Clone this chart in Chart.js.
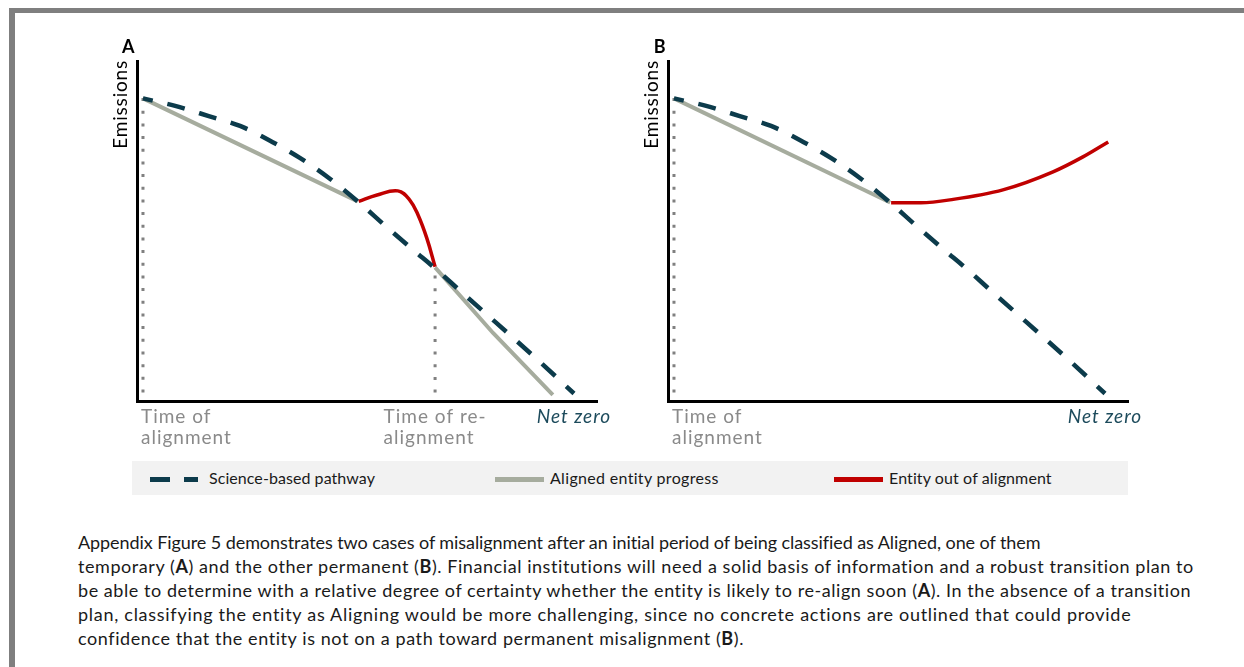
<!DOCTYPE html>
<html>
<head>
<meta charset="utf-8">
<script src="https://cdn.jsdelivr.net/npm/chart.js@4.4.1/dist/chart.umd.min.js"></script>
<style>
  html, body { margin: 0; padding: 0; background: #fff; }
  body { width: 1244px; height: 667px; position: relative; overflow: hidden; font-family: Lato, "Open Sans", sans-serif; }
  #frame { position: absolute; left: 9px; top: 8px; width: 1400px; height: 800px; border-left: 6px solid #7f7f7f; border-top: 5px solid #7f7f7f; box-sizing: border-box; }
  canvas { position: absolute; }
  #chartA { left: 100px; top: 30px; }
  #chartB { left: 631px; top: 30px; }
  #legend { position: absolute; left: 132px; top: 461px; width: 996px; height: 34px; background: #f2f2f2; }
  .sw { position: absolute; height: 5px; top: 15.5px; }
  .lt { position: absolute; top: 7px; font-size: 16px; line-height: 19px; color: #1a1a1a; white-space: nowrap; }
  #para { position: absolute; left: 78px; top: 530px; font-size: 18px; line-height: 24px; color: #1a1a1a; white-space: nowrap; }
  #para span { display: block; width: max-content; }
</style>
</head>
<body>
<div id="frame"></div>
<canvas id="chartA" width="530" height="430"></canvas>
<canvas id="chartB" width="530" height="430"></canvas>
<div id="legend"></div>
<div id="para">
<span data-w="962">Appendix Figure 5 demonstrates two cases of misalignment after an initial period of being classified as Aligned, one of them</span>
<span data-w="1117">temporary (<b>A</b>) and the other permanent (<b>B</b>). Financial institutions will need a solid basis of information and a robust transition plan to</span>
<span data-w="1114">be able to determine with a relative degree of certainty whether the entity is likely to re-align soon (<b>A</b>). In the absence of a transition</span>
<span data-w="1054">plan, classifying the entity as Aligning would be more challenging, since no concrete actions are outlined that could provide</span>
<span data-w="666">confidence that the entity is not on a path toward permanent misalignment (<b>B</b>).</span>
</div>
<script>
// Time runs 0..100 from the alignment date towards net zero; emissions 0..100.
const seriesNames = ['Science-based pathway', 'Aligned entity progress', 'Entity out of alignment'];

// Science-based pathway (same in both panels)
const pathwayX = [1.3, 8.3, 15.6, 22.4, 29.4, 35.4, 42, 48, 54, 60, 65, 70, 76, 82, 88, 95];
const pathwayY = [89, 86.8, 83.8, 80.9, 76.2, 71.5, 65.3, 58.7, 51.5, 44.5, 38.8, 32.7, 25.5, 18.3, 11, 2.2];

// Panel A: temporary misalignment, then re-alignment
const alignedAX = [1.3, 48, null, 64.8, 77.4, 90.4];
const alignedAY = [89, 58.7, null, 39.3, 20, 1.8];
const outAX = [48.2, 52.2, 56.7, 59.3, 61.1, 63, 64.8];
const outAY = [58.7, 60.6, 61.8, 59.1, 54.7, 47.9, 39.5];

// Panel B: permanent misalignment
const alignedBX = [1.3, 48.3];
const alignedBY = [89, 58.4];
const outBX = [48.5, 55, 62, 72.8, 83.7, 90.2, 95.7];
const outBY = [58.3, 58.3, 59.3, 62.1, 67.4, 71.8, 76.2];

// Vertical guides at the alignment / re-alignment dates
const timeAlign = 1.3, timeRealign = 64.8, netZero = 95;
const guideTop = 89.1, guideBottom = 2.3, realignGuideTop = 36.9;

// Axis notes
const notesA = [
  { at: timeAlign, lines: ['Time of', 'alignment'], place: 'left' },
  { at: timeRealign, lines: ['Time of re-', 'alignment'], place: 'block' },
  { at: netZero, lines: ['Net zero'], place: 'center', italic: true }
];
const notesB = [
  { at: timeAlign, lines: ['Time of', 'alignment'], place: 'left' },
  { at: netZero, lines: ['Net zero'], place: 'center', italic: true }
];

const TEAL = '#0c3b4b', GREY_LINE = '#a6ac9e', RED = '#c00000', DOT = '#808080';

function pts(xs, ys) {
  return xs.map((x, i) => ({ x: x, y: ys[i] }));
}
function ptsGap(xs, ys) {
  return xs.map((x, i) => x === null ? { x: xs[i - 1], y: null } : { x: x, y: ys[i] });
}

const panelText = {
  id: 'panelText',
  afterDraw(chart, args, opts) {
    const { ctx, chartArea } = chart;
    const xs = chart.scales.x;
    ctx.save();
    // panel letter
    ctx.fillStyle = '#000';
    ctx.font = 'bold 18px Lato, "Open Sans", sans-serif';
    ctx.textAlign = 'right';
    ctx.textBaseline = 'alphabetic';
    ctx.fillText(opts.letter, chartArea.left - 2.5, chartArea.top - 8);
    // y axis title
    ctx.save();
    ctx.translate(chartArea.left - 10, chartArea.top - 1);
    ctx.rotate(-Math.PI / 2);
    ctx.textAlign = 'right';
    ctx.font = '19px Lato, "Open Sans", sans-serif';
    ctx.letterSpacing = '0.8px';
    ctx.fillText('Emissions', 0, 0);
    ctx.restore();
    // notes under the time axis
    ctx.letterSpacing = '1px';
    opts.notes.forEach(n => {
      const px = xs.getPixelForValue(n.at);
      ctx.font = (n.italic ? 'italic ' : '') + '19px Lato, "Open Sans", sans-serif';
      ctx.fillStyle = n.italic ? '#1d4b5c' : '#8a8a8a';
      let startX = px, align = 'left';
      if (n.place === 'left') startX = px - 2;
      if (n.place === 'center') { align = 'center'; }
      if (n.place === 'block') {
        const w = Math.max(...n.lines.map(l => ctx.measureText(l).width));
        startX = px - w / 2;
      }
      ctx.textAlign = align;
      n.lines.forEach((l, i) => ctx.fillText(l, startX, chartArea.bottom + 21.5 + i * 21));
    });
    ctx.restore();
  }
};

function axisOpts() {
  return {
    type: 'linear', min: 0, max: 100,
    ticks: { display: false },
    grid: { display: false, drawTicks: false },
    border: { display: true, width: 3, color: '#000' }
  };
}

function makeChart(id, datasets, letter, notes) {
  return new Chart(document.getElementById(id), {
    type: 'line',
    data: { datasets },
    options: {
      responsive: false,
      animation: false,
      layout: { padding: { left: 37, top: 31, right: 33, bottom: 59 } },
      elements: { point: { radius: 0 } },
      plugins: {
        legend: { display: false },
        tooltip: { enabled: false },
        panelText: { letter, notes }
      },
      scales: { x: axisOpts(), y: axisOpts() }
    },
    plugins: [panelText]
  });
}

const pathwayDs = () => ({
  data: pts(pathwayX, pathwayY), borderColor: TEAL, borderWidth: 4.5,
  borderDash: [18, 15], borderDashOffset: 8, cubicInterpolationMode: 'monotone', borderCapStyle: 'butt'
});
const guideDs = (x, top) => ({
  data: [{ x: x, y: top }, { x: x, y: guideBottom }], borderColor: DOT, borderWidth: 3,
  borderDash: [3, 9.67], borderCapStyle: 'butt'
});

makeChart('chartA', [
  pathwayDs(),
  { data: pts(outAX, outAY), borderColor: RED, borderWidth: 3.5, tension: 0.4 },
  { data: ptsGap(alignedAX, alignedAY), borderColor: GREY_LINE, borderWidth: 4, tension: 0 },
  guideDs(timeAlign, guideTop),
  guideDs(timeRealign, realignGuideTop)
], 'A', notesA);

makeChart('chartB', [
  pathwayDs(),
  { data: pts(outBX, outBY), borderColor: RED, borderWidth: 3.5, cubicInterpolationMode: 'monotone' },
  { data: pts(alignedBX, alignedBY), borderColor: GREY_LINE, borderWidth: 4, tension: 0 },
  guideDs(timeAlign, guideTop)
], 'B', notesB);

// Legend across both panels
const legend = document.getElementById('legend');
const legendItems = [
  { name: seriesNames[0], kind: 'dash', swatchX: 18, textX: 77, w: 166 },
  { name: seriesNames[1], kind: 'grey', swatchX: 363, textX: 418, w: 169 },
  { name: seriesNames[2], kind: 'red', swatchX: 702, textX: 757, w: 163 }
];
function fitWidth(el, target) {
  const chars = el.textContent.length;
  const natural = el.getBoundingClientRect().width;
  el.style.letterSpacing = ((target - natural) / chars) + 'px';
}
legendItems.forEach(it => {
  if (it.kind === 'dash') {
    [[it.swatchX, 20], [it.swatchX + 34, 14]].forEach(([x, w]) => {
      const d = document.createElement('div');
      d.className = 'sw'; d.style.left = x + 'px'; d.style.width = w + 'px'; d.style.background = TEAL;
      legend.appendChild(d);
    });
  } else {
    const d = document.createElement('div');
    d.className = 'sw'; d.style.left = it.swatchX + 'px'; d.style.width = '49px';
    d.style.background = it.kind === 'grey' ? GREY_LINE : RED;
    legend.appendChild(d);
  }
  const t = document.createElement('div');
  t.className = 'lt'; t.style.left = it.textX + 'px'; t.textContent = it.name;
  legend.appendChild(t);
  fitWidth(t, it.w);
});

// Paragraph lines set to their measured widths
document.querySelectorAll('#para span').forEach(s => fitWidth(s, +s.dataset.w));
</script>
</body>
</html>
